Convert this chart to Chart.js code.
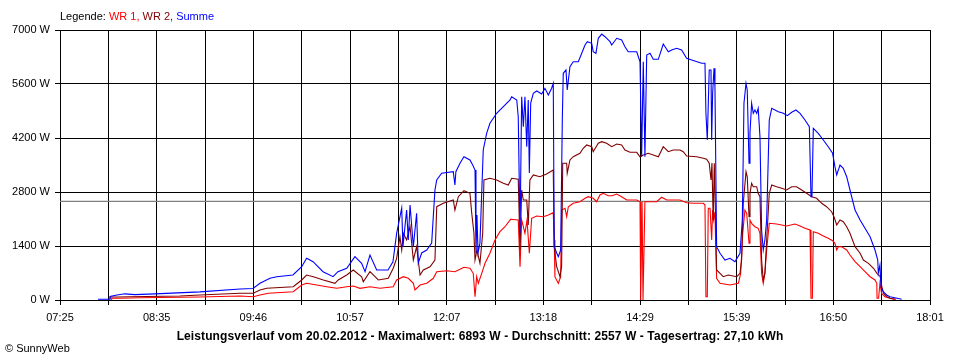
<!DOCTYPE html>
<html><head><meta charset="utf-8">
<script src="https://cdn.jsdelivr.net/npm/chart.js@4.4.1/dist/chart.umd.min.js"></script>
<style>html,body{margin:0;padding:0;background:#fff;}canvas{display:block;}</style>
</head><body>
<canvas id="c" width="960" height="360"></canvas>
<script>
// x values are minutes since midnight, y values are watts
const xTickLabels = ['07:25','08:35','09:46','10:57','12:07','13:18','14:29','15:39','16:50','18:01'];
const timeStart = 445;   // 07:25
const timeEnd = 1081;    // 18:01
const yMax = 7000;
const yStep = 1400;
const average = 2557;
const legendParts = [['Legende: ','#000000'],['WR 1, ','#ff0000'],['WR 2, ','#800000'],['Summe','#0000ff']];
const titleText = 'Leistungsverlauf vom 20.02.2012 - Maximalwert: 6893 W - Durchschnitt: 2557 W - Tagesertrag: 27,10 kWh';
const footerText = '\u00A9 SunnyWeb';

const wr1 = [[482.8,0],[482.8,44],[488.9,44],[503.5,60],[518.1,65],[547.3,78],[576.6,104],[586.3,86],[591.2,130],[597.3,174],[615.5,215],[621.7,389],[625.3,433],[632.7,389],[640,345],[647.3,303],[654.6,345],[659.4,363],[664.3,303],[671.6,345],[678.9,303],[688.6,345],[691.1,519],[696,604],[699.6,563],[703.3,433],[704.5,259],[708.2,389],[713.1,433],[717.9,563],[720.4,734],[727.7,760],[733.7,734],[737.4,796],[740.3,848],[744.7,822],[747.1,692],[748.4,86],[749.6,604],[750.8,433],[753.3,692],[755.7,951],[759.3,1211],[763,1556],[766.6,1771],[770.3,1900],[774.4,2092],[780,2074],[781.3,863],[782.5,2074],[784.9,1729],[786.4,2074],[788.1,1211],[789.8,2118],[793.5,2178],[798.3,2160],[802,2204],[805.6,2263],[806.3,1556],[806.8,604],[809.3,433],[811,604],[811.7,2333],[814.2,2377],[815.4,2160],[816.6,2419],[820.2,2507],[825.1,2548],[828.8,2637],[831.2,2678],[834.8,2637],[837.3,2548],[839.7,2722],[842.1,2766],[845.8,2704],[848.5,2704],[852,2748],[855.6,2678],[859.3,2593],[866.6,2593],[869,2548],[869.5,0],[870.5,2548],[871.2,0],[872.6,2548],[876.3,2548],[881.2,2548],[884.8,2663],[888.5,2593],[893.3,2593],[898.2,2593],[903.1,2523],[908,2507],[915.3,2507],[916.5,2463],[917.2,86],[918.2,86],[918.9,2377],[920.2,2377],[921.4,1556],[922.1,2333],[922.8,2074],[923.8,2281],[924.5,1211],[925,563],[927.5,433],[934.8,389],[940.9,433],[942.6,692],[944.1,1729],[945.7,2333],[947,2248],[948.7,1470],[949.4,2074],[950.6,1988],[953,1900],[955.4,1859],[956.7,1729],[957.9,692],[959.1,433],[960.3,692],[961.6,1296],[963.5,1988],[968.9,1970],[976.2,1919],[982.3,1970],[986,1919],[989.6,1859],[993.3,1815],[994,44],[995,44],[995.7,1771],[999.3,1729],[1003,1659],[1006.6,1600],[1009.8,1537],[1011.5,1470],[1012.8,1296],[1014,1382],[1016.4,1382],[1020.1,1296],[1022.5,1167],[1026.2,993],[1029.9,863],[1033.5,734],[1037.2,604],[1040.8,519],[1042.1,433],[1042.3,44],[1043.4,44],[1044.4,433],[1045.6,174],[1048,86],[1051.7,44],[1055.4,13]];

const wr2 = [[481.6,18],[481.6,78],[486.7,78],[496.2,86],[532.7,104],[547.3,130],[576.6,174],[586.3,174],[591.2,259],[596.1,303],[615.5,345],[621.7,519],[625.3,648],[630.2,604],[637.5,519],[646,433],[648.4,519],[654.6,648],[659.4,778],[665.5,604],[666.7,474],[671.6,734],[677.7,519],[685,563],[688.6,822],[691.1,1081],[693.5,1641],[694.8,1296],[696,1729],[698.4,1556],[700.9,1900],[703.3,1037],[705.7,1382],[708.2,648],[710.6,778],[715.5,863],[719.1,1037],[720.4,2419],[725.2,2507],[732.5,2593],[733.7,2333],[736.2,2678],[740.3,2834],[744.7,2766],[746,2248],[747.6,1729],[748.4,1037],[749.8,1296],[752,951],[754,1729],[754.9,3111],[759.3,3155],[764.2,3111],[769.1,3026],[772.7,2981],[775.2,3155],[780,3129],[781.3,1296],[782.5,2852],[783.7,2593],[786.2,2593],[787.3,1944],[788.5,3111],[791,3241],[795.8,3197],[800.7,3267],[805.6,3370],[806.3,1382],[808.1,863],[810.5,604],[811.7,863],[812.5,3544],[815.4,3544],[815.8,3285],[817.8,3630],[820.2,3715],[825.1,3803],[827.5,3933],[830,4019],[833.7,3974],[834.8,3845],[838.5,4063],[841,4104],[844.6,4063],[848.3,3974],[852,4044],[855.6,4019],[858,3889],[861.7,3829],[866.6,3829],[869,3715],[871.4,3759],[875,3803],[878.7,3759],[882.4,3715],[886,3974],[889.7,3845],[893.3,3889],[898.2,3889],[900.6,3845],[903.1,3733],[910.4,3715],[915.3,3674],[917.7,3648],[919.6,3544],[920.9,3111],[921.6,3552],[922.5,2074],[923.3,3544],[924.1,2333],[925,778],[927.5,692],[929.9,604],[933.5,648],[939.7,604],[942.1,692],[943.3,1037],[944.5,2507],[946.5,3326],[947.4,3197],[948.7,2160],[949.4,2766],[950.6,3026],[951.8,2937],[954.3,2937],[955.4,2766],[956.7,2678],[957.9,1037],[959.1,519],[960.3,692],[961.6,1556],[963.5,2766],[965.3,2981],[968.9,2937],[972.6,2896],[976.2,2852],[979.9,2937],[983.5,2937],[987.2,2852],[990.8,2766],[994.5,2678],[998.1,2637],[1001.8,2507],[1005.4,2419],[1009.1,2289],[1010.8,2160],[1012.8,1944],[1015.2,2074],[1017.6,2030],[1020.1,1900],[1022.5,1729],[1026.2,1382],[1029.9,1211],[1032.3,1037],[1036,951],[1039.7,822],[1042.2,692],[1044.6,604],[1045.8,345],[1047,174],[1049.5,86],[1051.9,44],[1056.1,18]];

const summe = [[472.8,20],[481.6,20],[481.6,90],[486.7,130],[492.5,160],[499.8,140],[514.4,160],[547.3,210],[576.6,285],[586.1,300],[591.2,433],[598.5,563],[603.4,604],[615.3,648],[621.7,863],[625.3,1081],[630,993],[637.3,734],[644.6,604],[648.2,734],[654.6,822],[660.6,1123],[665.5,951],[668,734],[671.6,1167],[676.5,778],[684.8,778],[688.4,993],[691.1,1729],[694.8,2385],[695.7,1382],[698.4,2333],[699.6,1556],[700.9,2463],[703.3,1382],[705.7,2248],[706.9,959],[709.4,1219],[713.1,1296],[716.7,1478],[719.1,2852],[720.4,3111],[724,3285],[732.5,3326],[733.7,2981],[734.4,3326],[737.4,3544],[740.3,3715],[744.7,3630],[746.7,3500],[748.4,3370],[749.1,1219],[749.8,2204],[750.6,1219],[752,1478],[754.4,3889],[756.9,4322],[759.3,4581],[764.2,4840],[769.1,5011],[774,5185],[775.2,5271],[778.9,5185],[780,4752],[781.3,1737],[782.5,5271],[783.7,4493],[784.9,5271],[786.2,3974],[787.3,5185],[788.1,3293],[789.1,5107],[791,5359],[793.5,5419],[797.1,5341],[799.5,5489],[802,5315],[804.4,5489],[805.6,5618],[806.3,1382],[808.1,1219],[809.3,1123],[811,1296],[812.2,4667],[812.9,5877],[814.9,5963],[815.8,5444],[817.8,6049],[820.2,6178],[823.9,6178],[826.4,6396],[828.8,6611],[830.5,6697],[833.7,6655],[834.8,6437],[836.8,6396],[838.5,6785],[841,6893],[843.4,6826],[847.1,6697],[848.3,6611],[852,6785],[855.6,6741],[858,6567],[860.4,6437],[866.6,6437],[869,6178],[870.2,3715],[871.4,6178],[872.6,3715],[873.9,6352],[876.3,6396],[878.7,6240],[882.4,6240],[886,6637],[889.7,6437],[892.2,6481],[895.8,6526],[899.4,6481],[903.1,6266],[906.8,6222],[914.1,6137],[916.5,6137],[917.2,4848],[918.2,4148],[919.6,5963],[920.9,5963],[921.4,4148],[922.1,5359],[923.1,6007],[923.8,5530],[925,1382],[927.5,1211],[931.1,1037],[934.8,1081],[938.4,993],[942.1,1211],[943.8,2074],[945,5100],[946.5,5618],[947.4,5444],[948.7,3544],[949.4,4330],[950.6,5100],[951.8,4840],[953,4926],[954.3,4840],[955.4,4970],[956.7,4234],[957.9,1815],[959.1,1296],[960.3,1556],[961.6,2074],[963.5,4667],[965.3,4970],[970.1,4882],[973.8,4840],[976.7,4778],[979.9,4866],[983,4926],[986,4840],[989.6,4667],[992.8,4493],[994,2678],[994.7,2678],[995.7,4452],[999.3,4322],[1003,4148],[1006.6,3974],[1009.8,3803],[1011.5,3456],[1012.8,3241],[1015.2,3500],[1017.6,3414],[1020.1,3197],[1022.5,2852],[1026.2,2333],[1029.9,2074],[1033.5,1859],[1037.2,1641],[1040.8,1296],[1042.8,1037],[1043.2,700],[1044.4,907],[1045.2,345],[1046.8,215],[1049.3,130],[1051.7,86],[1056.1,52],[1060.3,18]];

const FONT = 'Liberation Sans, Arial, sans-serif';
const toXY = arr => arr.map(p => ({x: p[0], y: p[1]}));

const textPlugin = {
  id: 'texts',
  afterDraw(chart) {
    const ctx = chart.ctx;
    ctx.save();
    ctx.textBaseline = 'middle';
    ctx.textAlign = 'left';
    ctx.font = '11px ' + FONT;
    let x = chart.chartArea.left;
    for (const [t, c] of legendParts) {
      ctx.fillStyle = c;
      ctx.fillText(t, x, 16.5);
      x += ctx.measureText(t).width;
    }
    ctx.font = 'bold 12px ' + FONT;
    ctx.fillStyle = '#000';
    ctx.textAlign = 'center';
    if ('letterSpacing' in ctx) ctx.letterSpacing = '0.1px';
    ctx.fillText(titleText, 480, 337);
    if ('letterSpacing' in ctx) ctx.letterSpacing = '0px';
    ctx.font = '11px ' + FONT;
    ctx.textAlign = 'left';
    ctx.fillText(footerText, 5, 349);
    ctx.restore();
  }
};

const line = (label, data, color, order) => ({
  label, data: toXY(data), borderColor: color, backgroundColor: color,
  borderWidth: 1.1, pointRadius: 0, tension: 0, fill: false, order
});

new Chart(document.getElementById('c'), {
  type: 'line',
  data: {
    datasets: [
      line('Summe', summe, '#0000ff', 1),
      line('WR 2', wr2, '#800000', 2),
      line('WR 1', wr1, '#ff0000', 3),
      line('Durchschnitt', [[timeStart, average], [timeEnd, average]], '#808080', 4)
    ]
  },
  options: {
    responsive: false,
    animation: false,
    devicePixelRatio: 1,
    layout: { padding: { top: 30, right: 30, left: 0, bottom: 0 } },
    plugins: { legend: { display: false }, tooltip: { enabled: false }, title: { display: false } },
    scales: {
      x: {
        type: 'linear', min: timeStart, max: timeEnd,
        afterFit(s) { s.height = 60; },
        afterBuildTicks(s) {
          const n = (xTickLabels.length - 1) * 2;
          s.ticks = [];
          for (let i = 0; i <= n; i++) s.ticks.push({ value: timeStart + i * (timeEnd - timeStart) / n });
        },
        ticks: {
          autoSkip: false, maxRotation: 0, minRotation: 0, padding: 6, color: '#000',
          font: { family: FONT, size: 11 },
          callback: (v, i) => (i % 2 === 0 ? xTickLabels[i / 2] : '')
        },
        grid: { color: '#000', lineWidth: 1, tickLength: 5, drawTicks: true },
        border: { color: '#000', width: 1 }
      },
      y: {
        min: 0, max: yMax,
        afterFit(s) { s.width = 60; },
        ticks: {
          stepSize: yStep, padding: 5, color: '#000',
          font: { family: FONT, size: 11 },
          callback: v => v + ' W'
        },
        grid: { color: '#000', lineWidth: 1, tickLength: 5, drawTicks: true },
        border: { color: '#000', width: 1 }
      }
    }
  },
  plugins: [textPlugin]
});
</script>
</body></html>
